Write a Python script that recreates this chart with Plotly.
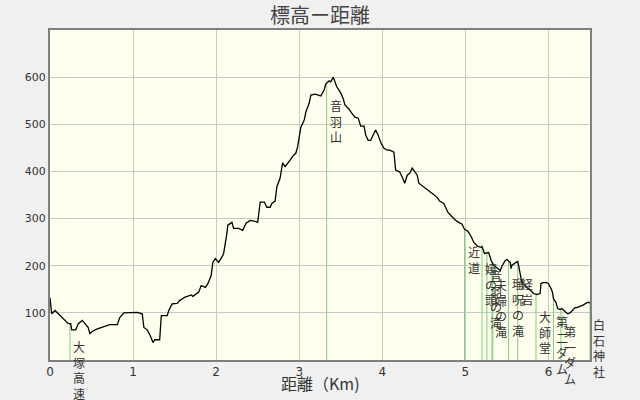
import numpy as np
import plotly.graph_objects as go

# distance (km) and elevation (m) of the profile
dist_km = [0.00, 0.02, 0.06, 0.10, 0.16, 0.22, 0.25, 0.26, 0.31, 0.34, 0.39, 0.42, 0.46, 0.48, 0.52, 0.57,
           0.60, 0.65, 0.72, 0.81, 0.84, 0.89, 0.96, 1.05, 1.11, 1.13, 1.17, 1.20, 1.24, 1.26, 1.32, 1.34,
           1.41, 1.43, 1.47, 1.53, 1.56, 1.62, 1.70, 1.72, 1.79, 1.82, 1.87, 1.90, 1.94, 1.96, 1.99, 2.03,
           2.08, 2.09, 2.13, 2.14, 2.19, 2.21, 2.27, 2.32, 2.36, 2.41, 2.47, 2.50, 2.53, 2.58, 2.61, 2.65,
           2.67, 2.71, 2.73, 2.76, 2.77, 2.80, 2.83, 2.89, 2.92, 2.96, 2.98, 3.02, 3.06, 3.08, 3.12, 3.14,
           3.19, 3.23, 3.26, 3.30, 3.32, 3.36, 3.38, 3.41, 3.43, 3.45, 3.50, 3.53, 3.55, 3.60, 3.63, 3.67,
           3.71, 3.74, 3.78, 3.80, 3.83, 3.86, 3.90, 3.92, 3.95, 3.98, 4.02, 4.06, 4.09, 4.14, 4.16, 4.21,
           4.25, 4.27, 4.30, 4.33, 4.36, 4.39, 4.42, 4.44, 4.49, 4.55, 4.61, 4.66, 4.69, 4.74, 4.79, 4.83,
           4.86, 4.90, 4.96, 4.99, 5.03, 5.07, 5.10, 5.15, 5.19, 5.20, 5.23, 5.28, 5.31, 5.34, 5.38, 5.42,
           5.44, 5.48, 5.50, 5.54, 5.55, 5.56, 5.61, 5.63, 5.64, 5.66, 5.68, 5.72, 5.75, 5.79, 5.82, 5.86,
           5.90, 5.91, 5.93, 5.98, 6.00, 6.03, 6.05, 6.06, 6.09, 6.11, 6.14, 6.16, 6.20, 6.23, 6.26, 6.29,
           6.32, 6.34, 6.38, 6.41, 6.45, 6.47, 6.50, 6.52]
elev_m = [132, 98, 105, 98, 88, 77, 77, 64, 64, 77, 84, 77, 69, 56, 62, 66,
          68, 71, 75, 75, 90, 100, 100, 101, 98, 69, 64, 54, 37, 43, 43, 94,
          94, 105, 119, 120, 126, 133, 138, 135, 144, 158, 154, 162, 179, 207, 215, 207,
          222, 226, 269, 286, 292, 279, 279, 275, 290, 296, 294, 292, 335, 335, 324, 324,
          332, 337, 367, 383, 386, 418, 410, 424, 432, 439, 452, 494, 509, 526, 545, 562,
          564, 562, 560, 573, 586, 592, 590, 600, 590, 580, 566, 554, 541, 532, 524, 515,
          513, 496, 496, 477, 466, 466, 481, 488, 477, 462, 449, 445, 445, 441, 403, 399,
          384, 375, 392, 396, 407, 399, 392, 375, 369, 360, 352, 345, 337, 332, 313, 305,
          300, 294, 288, 277, 273, 262, 250, 241, 239, 241, 226, 228, 211, 201, 196, 190,
          199, 211, 213, 207, 194, 201, 207, 209, 201, 179, 164, 158, 152, 147, 141, 139,
          141, 162, 164, 164, 162, 152, 143, 130, 122, 109, 107, 109, 103, 98, 100, 105,
          111, 111, 113, 116, 120, 122, 122, 120]

# landmarks along the route
landmark_km = [0.24, 3.33, 4.99, 5.20, 5.26, 5.32, 5.33, 5.52, 5.63, 5.85, 6.06, 6.15, 6.50]
landmark_names = ["大塚高速", "音羽山", "近道", "嬉の頭", "音羽の滝", "夫婦の滝", "",
                  "瑠呪の滝", "経岩", "大師堂", "第二ダム", "第一ダム", "白石神社"]

y_ticks = [100, 200, 300, 400, 500, 600]
x_ticks = [0, 1, 2, 3, 4, 5, 6]

fig = go.Figure()

lm_elev = np.interp(landmark_km, dist_km, elev_m)
for km, h in zip(landmark_km, lm_elev):
    fig.add_trace(go.Scatter(x=[km, km], y=[0, h], mode="lines",
                             line=dict(color="#7fcf7f", width=1),
                             hoverinfo="skip", showlegend=False))

fig.add_trace(go.Scatter(x=dist_km, y=elev_m, mode="lines",
                         line=dict(color="black", width=1.3, shape="linear"),
                         showlegend=False))

for km, h, name in zip(landmark_km, lm_elev, landmark_names):
    if not name:
        continue
    fig.add_annotation(x=km, y=h, xref="x", yref="y", text="<br>".join(list(name)),
                       showarrow=False, xanchor="left", yanchor="top", xshift=1, yshift=-12,
                       align="center",
                       font=dict(family="Noto Sans CJK JP", size=12, color="#333333"))

fig.add_annotation(x=0.5, y=-0.07, xref="paper", yref="paper", text="距離（Km)",
                   showarrow=False, xanchor="center", yanchor="middle",
                   font=dict(family="Noto Sans CJK JP", size=16, color="#333333"))

fig.update_layout(
    width=640, height=400,
    margin=dict(l=50, r=50, t=30, b=40),
    paper_bgcolor="#f0f0f0",
    plot_bgcolor="#ffffee",
    title=dict(text="標高ー距離", x=0.5, xanchor="center", y=1 - 16 / 400, yanchor="middle",
               yref="container",
               font=dict(family="Noto Sans CJK JP", size=20, color="#444444")),
    xaxis=dict(range=[0, 6.5], tickvals=x_ticks, ticktext=[str(v) for v in x_ticks],
               showgrid=True, gridcolor="#c8c8c8", gridwidth=1,
               showline=True, linecolor="#808080", linewidth=2, mirror=True,
               ticks="", zeroline=False,
               tickfont=dict(family="DejaVu Sans", size=12, color="#333333")),
    yaxis=dict(range=[0, 700], tickvals=y_ticks, ticktext=[str(v) for v in y_ticks],
               showgrid=True, gridcolor="#c8c8c8", gridwidth=1,
               showline=True, linecolor="#808080", linewidth=2, mirror=True,
               ticks="", zeroline=False,
               tickfont=dict(family="DejaVu Sans", size=11, color="#333333")),
)

fig.write_html("out.html", config={"displayModeBar": False},
               post_script="document.body.style.margin='0';document.body.style.background='#f0f0f0';")
